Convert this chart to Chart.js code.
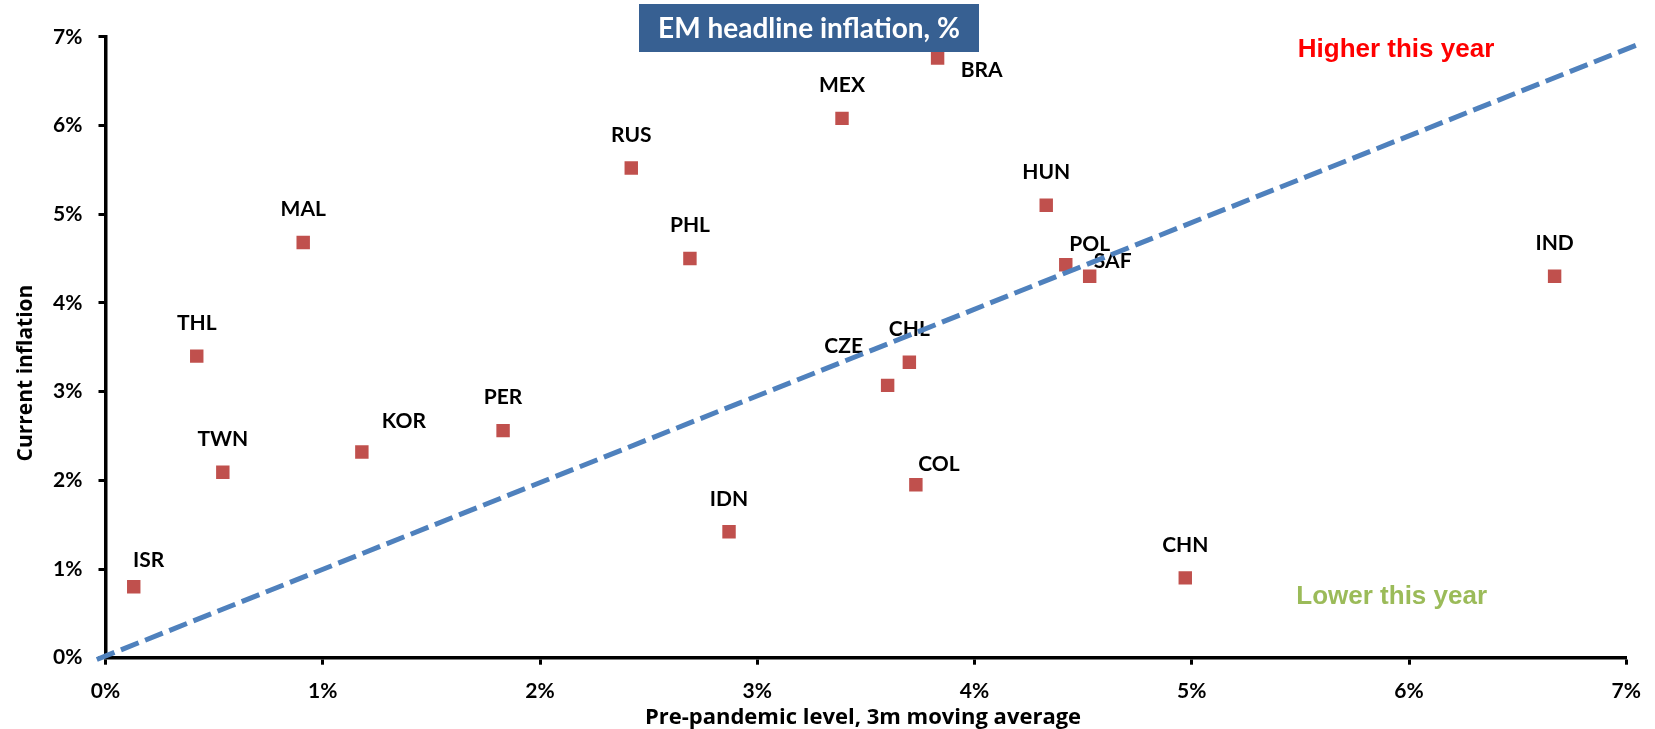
<!DOCTYPE html>
<html>
<head>
<meta charset="utf-8">
<script src="https://cdn.jsdelivr.net/npm/chart.js@4/dist/chart.umd.min.js"></script>
<style>
  html, body { margin: 0; padding: 0; background: #ffffff; }
  #wrap { width: 1655px; height: 729px; position: relative; }
</style>
</head>
<body>
<div id="wrap"><canvas id="c" width="1655" height="729"></canvas></div>
<script>
// EM headline inflation: current vs pre-pandemic (3m moving average), %
const countries = ['ISR', 'THL', 'TWN', 'MAL', 'KOR', 'PER', 'RUS', 'PHL', 'IDN', 'MEX',
                   'CZE', 'CHL', 'COL', 'BRA', 'HUN', 'POL', 'SAF', 'CHN', 'IND'];
const prePandemic = [0.13, 0.42, 0.54, 0.91, 1.18, 1.83, 2.42, 2.69, 2.87, 3.39,
                     3.60, 3.70, 3.73, 3.83, 4.33, 4.42, 4.53, 4.97, 6.67];
const currentInflation = [0.80, 3.40, 2.09, 4.68, 2.32, 2.56, 5.52, 4.50, 1.42, 6.08,
                          3.07, 3.33, 1.95, 6.76, 5.10, 4.43, 4.30, 0.90, 4.30];
// reference line separating "higher" from "lower" this year
const guideX = [-0.04, 7.05];
const guideY = [-0.02, 6.91];
const tickLabels = ['0%', '1%', '2%', '3%', '4%', '5%', '6%', '7%'];

// label placement around each marker (pixels); default sits above the marker
const defaultNudge = [0, -33];
const labelNudge = {
  BRA: [44, 12], ISR: [15, -27], KOR: [42, -31], CZE: [-44, -39],
  COL: [23, -21], POL: [24, -21], SAF: [23, -15]
};

const pointLabels = {
  id: 'pointLabels',
  afterDatasetDraw(chart, args) {
    if (args.index !== 0) return;
    const ctx = chart.ctx;
    ctx.save();
    ctx.font = 'bold 21px Lato';
    ctx.fillStyle = '#000000';
    ctx.textAlign = 'center';
    ctx.textBaseline = 'middle';
    args.meta.data.forEach((pt, i) => {
      const nudge = labelNudge[countries[i]] || defaultNudge;
      ctx.fillText(countries[i], pt.x + nudge[0], pt.y + nudge[1]);
    });
    ctx.restore();
  }
};

const annotations = {
  id: 'annotations',
  afterDraw(chart) {
    const ctx = chart.ctx;
    const xs = chart.scales.x, ys = chart.scales.y;
    ctx.save();

    // title box
    ctx.fillStyle = '#376092';
    ctx.fillRect(639, 4, 340, 48);
    ctx.fillStyle = '#ffffff';
    ctx.font = 'bold 28px Lato';
    ctx.textAlign = 'center';
    ctx.textBaseline = 'alphabetic';
    ctx.fillText('EM headline inflation, %', 809, 37.5);

    // region notes
    ctx.font = 'bold 26px "Liberation Sans", Arial, sans-serif';
    ctx.fillStyle = '#FF0000';
    ctx.fillText('Higher this year', xs.getPixelForValue(5.94), ys.getPixelForValue(6.77));
    ctx.fillStyle = '#9BBB59';
    ctx.fillText('Lower this year', xs.getPixelForValue(5.92), ys.getPixelForValue(0.605));

    // axis titles
    ctx.fillStyle = '#000000';
    ctx.font = 'bold 22px "Open Sans"';
    ctx.fillText('Pre-pandemic level, 3m moving average', 863, 724);

    ctx.font = 'bold 21px "Open Sans"';
    ctx.translate(32, 373);
    ctx.rotate(-Math.PI / 2);
    ctx.fillText('Current inflation', 0, 0);
    ctx.restore();
  }
};

function axisStyle(extra) {
  return Object.assign({
    type: 'linear',
    min: 0,
    max: 7,
    grid: {
      display: true,
      drawOnChartArea: false,
      drawTicks: true,
      tickLength: 7,
      tickWidth: 3,
      tickColor: '#000000'
    },
    border: { display: true, color: '#000000', width: 3.5 },
    title: { display: false }
  }, extra);
}

function build() {
  const ctx = document.getElementById('c').getContext('2d');
  new Chart(ctx, {
    type: 'scatter',
    data: {
      datasets: [
        {
          label: 'EM inflation',
          data: countries.map((c, i) => ({ x: prePandemic[i], y: currentInflation[i] })),
          pointStyle: 'rect',
          pointRadius: 9.5,
          pointHoverRadius: 9.5,
          backgroundColor: '#C0504D',
          borderWidth: 0,
          pointBorderWidth: 0,
          order: 2
        },
        {
          type: 'line',
          label: 'Same as pre-pandemic',
          data: guideX.map((x, i) => ({ x: x, y: guideY[i] })),
          borderColor: '#4F81BD',
          borderWidth: 5,
          borderDash: [19, 7],
          borderCapStyle: 'butt',
          pointRadius: 0,
          fill: false,
          tension: 0,
          clip: false,
          order: 1
        }
      ]
    },
    options: {
      responsive: false,
      animation: false,
      events: [],
      layout: { padding: { top: 36.8, right: 18.5, left: 0, bottom: 0 } },
      plugins: { legend: { display: false }, tooltip: { enabled: false }, title: { display: false } },
      scales: {
        x: axisStyle({
          position: 'bottom',
          afterFit: s => { s.height = 71.3; },
          ticks: {
            stepSize: 1,
            padding: 14,
            color: '#000000',
            font: { family: 'Lato', weight: 'bold', size: 21 },
            maxRotation: 0,
            callback: (v, i) => tickLabels[i]
          }
        }),
        y: axisStyle({
          position: 'left',
          afterFit: s => { s.width = 105.5; },
          ticks: {
            stepSize: 1,
            padding: 16,
            color: '#000000',
            font: { family: 'Lato', weight: 'bold', size: 21 },
            callback: (v, i) => tickLabels[i]
          }
        })
      }
    },
    plugins: [pointLabels, annotations]
  });
}

const fontLoads = ['bold 21px Lato', 'bold 28px Lato', 'bold 22px "Open Sans"', 'bold 26px "Liberation Sans"']
  .map(f => document.fonts.load(f).catch(() => null));
Promise.all(fontLoads).then(build, build);
</script>
</body>
</html>
